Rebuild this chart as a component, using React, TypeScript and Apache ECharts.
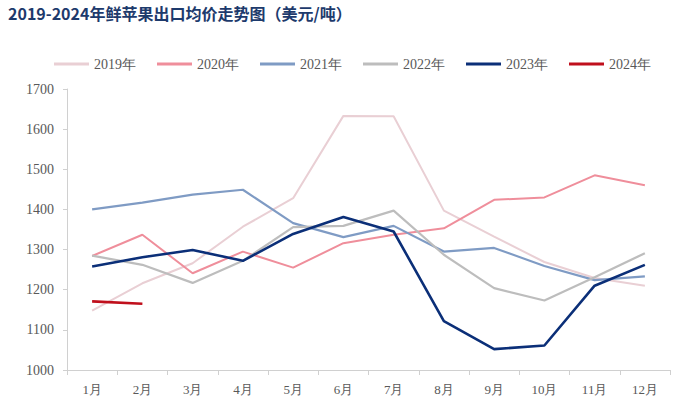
import React, { useEffect, useRef } from "react";
import * as echarts from "echarts";

const months = ["1月", "2月", "3月", "4月", "5月", "6月", "7月", "8月", "9月", "10月", "11月", "12月"];
const seriesNames = ["2019年", "2020年", "2021年", "2022年", "2023年", "2024年"];
const v2019 = [1148, 1216, 1266, 1357, 1428, 1633, 1632, 1397, 1332, 1269, 1229, 1210];
const v2020 = [1284, 1337, 1241, 1295, 1255, 1316, 1337, 1353, 1424, 1430, 1485, 1460];
const v2021 = [1400, 1417, 1437, 1449, 1366, 1331, 1359, 1295, 1304, 1259, 1224, 1233];
const v2022 = [1285, 1262, 1217, 1272, 1356, 1359, 1397, 1287, 1204, 1173, 1231, 1291];
const v2023 = [1258, 1281, 1299, 1272, 1339, 1381, 1345, 1122, 1052, 1061, 1210, 1262];
const v2024 = [1171, 1165];
const yTicks = { min: 1000, max: 1700, interval: 100 };

const colors = ["#e9cfd4", "#ef8e9b", "#7f9bc4", "#bdbdbd", "#0b2f78", "#c00f1c"];
const widths = [2, 2, 2.2, 2.2, 2.6, 2.6];
const serif = "'Liberation Serif', 'Times New Roman', serif";

export default function App() {
  const ref = useRef<HTMLDivElement>(null);
  useEffect(() => {
    if (!ref.current) return;
    const chart = echarts.init(ref.current, null, { renderer: "svg" });
    const all = [v2019, v2020, v2021, v2022, v2023, v2024];
    chart.setOption({
      animation: false,
      backgroundColor: "#ffffff",
      title: {
        text: "2019-2024年鲜苹果出口均价走势图（美元/吨）",
        left: 3,
        top: 0,
        textStyle: {
          fontFamily: "'Noto Sans CJK SC', sans-serif",
          fontWeight: "bold",
          fontSize: 16,
          color: "#1d3a6c",
        },
      },
      legend: {
        top: 52,
        left: 49,
        itemWidth: 35,
        itemHeight: 3,
        itemGap: 21,
        icon: "rect",
        textStyle: {
          fontFamily: serif,
          fontSize: 14,
          color: "#595959",
        },
        data: seriesNames,
      },
      grid: { left: 67, right: 30, top: 89, bottom: 35, containLabel: false },
      xAxis: {
        type: "category",
        data: months,
        boundaryGap: true,
        axisLine: { lineStyle: { color: "#d0d0d0", width: 1 } },
        axisTick: { show: true, length: 5, lineStyle: { color: "#d0d0d0" } },
        axisLabel: {
          fontFamily: serif,
          fontSize: 13,
          color: "#595959",
          margin: 13,
        },
      },
      yAxis: {
        type: "value",
        min: yTicks.min,
        max: yTicks.max,
        interval: yTicks.interval,
        axisLine: { show: true, lineStyle: { color: "#d0d0d0", width: 1 } },
        axisTick: { show: true, length: 4, lineStyle: { color: "#d0d0d0" } },
        splitLine: { show: false },
        axisLabel: {
          fontFamily: serif,
          fontSize: 14,
          color: "#595959",
          margin: 13,
          formatter: (v: number) => String(v),
        },
      },
      series: all.map((d, i) => ({
        name: seriesNames[i],
        type: "line",
        data: d,
        symbol: "none",
        z: i === 0 ? 1 : 2 + i,
        itemStyle: { color: colors[i] },
        lineStyle: { color: colors[i], width: widths[i] },
      })),
    });
    return () => chart.dispose();
  }, []);
  return (
    <div
      ref={ref}
      style={{ position: "fixed", left: 0, top: 0, width: 700, height: 405 }}
    />
  );
}
